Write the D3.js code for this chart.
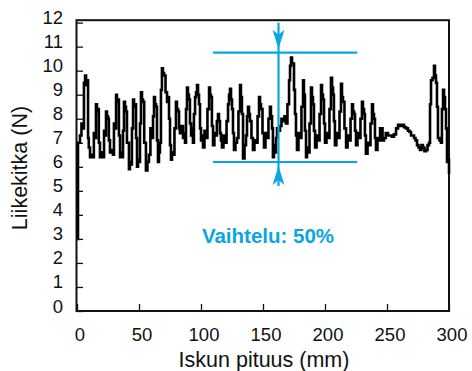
<!DOCTYPE html>
<html>
<head>
<meta charset="utf-8">
<script src="https://cdn.jsdelivr.net/npm/d3@7/dist/d3.min.js"></script>
<style>
  html, body { margin: 0; padding: 0; background: #fff; }
  svg { display: block; }
  text { font-family: "Liberation Sans", Arial, Helvetica, sans-serif; }
</style>
</head>
<body>
<svg id="chart" width="472" height="371"></svg>
<script>
// ---- data ----
const strokeMm = [0,0.8,2.4,3.6,4.8,5.6,6.5,7.3,8.1,8.9,9.5,10.5,11.7,12.9,13.6,14.4,15.3,16.1,16.9,17.6,18.5,19.6,21,21.8,22.6,23.4,24.2,25,25.7,26.6,27.8,29,29.8,30.6,31.5,32.2,33,33.8,34.7,35.5,36.3,37.1,37.9,38.7,39.5,40.3,41.9,42.7,43.5,44.3,45.2,46,46.8,47.6,48.4,49.2,50,50.8,51.6,52.4,53.2,54.2,55.6,56.8,58,59.2,60.5,61.3,62.1,62.9,63.7,64.5,65.3,66.1,66.9,67.7,68.5,69.3,70.2,71.4,72.6,73.4,74.2,75,75.8,76.6,77.4,78.6,79.8,80.6,81.5,82.3,83,84.2,85.5,86.3,87.1,87.9,88.7,89.5,90.3,91.1,92,92.8,93.5,94.3,95.2,96,96.8,97.6,98.4,99.2,100,100.8,101.6,102.8,104,105.2,106.5,107.3,108,108.8,109.7,110.8,112,112.8,113.7,114.5,115.3,116.1,116.9,118.1,119.4,120.6,121.8,122.6,123.4,124.2,125,125.8,126.6,127.8,129,130.2,131.5,132.2,133,133.9,135.1,136.3,137.1,137.9,138.7,139.5,140.7,141.9,143.1,144.4,145.6,146.8,147.6,148.4,149.6,150.8,152,153.2,154.4,155.6,156.4,157.3,158,158.8,159.7,160.5,161.3,162.5,163.7,164.9,166.1,167.3,168.5,169.7,171,171.8,172.6,173.4,174.2,175,175.8,176.6,177.4,178.6,179.8,181,182.3,183,183.8,184.7,185.5,186.3,187.5,188.7,189.5,190.3,191.1,192,193.2,194.4,195.6,196.8,197.6,198.4,199.2,200,201.2,202.4,203.6,204.8,205.7,206.5,207.2,208,209.2,210.5,211.7,212.9,213.7,214.5,215.7,217,218.2,219.4,220.6,221.8,222.6,223.4,224.2,225,226.2,227.4,228.6,229.8,230.6,231.5,232.2,233,234.3,235.5,236.7,237.9,238.7,239.5,240.3,241.1,242.3,243.5,244.4,245.2,246.4,247.6,249,250.8,252.4,254,255.6,257.3,258.9,260.5,262.1,263.7,265.3,266.9,268.2,269.4,270.6,271.8,273,274.2,275.4,276.6,277.8,279,280.2,281.5,282.7,283.9,284.7,285.5,286.7,287.9,288.7,289.5,290.3,291.1,292.3,293.5,294.3,295.2,296,296.8,297.6,298.4,299.2,300];
const forceN = [3.0,7.0,7.3,7.8,7.6,9.5,9.8,9.4,9.6,7.2,6.8,6.4,6.5,6.4,7.4,7.2,8.6,8.3,8.4,7.0,6.4,6.6,6.4,7.5,7.3,8.3,8.1,8.0,7.1,6.6,6.7,6.5,7.8,7.6,9.0,8.7,8.8,7.3,6.4,6.6,6.4,7.5,8.7,8.5,8.3,7.0,5.9,6.2,6.1,7.6,8.8,8.5,8.6,7.2,6.0,6.3,6.2,7.8,9.1,8.8,8.7,7.0,5.85,6.2,6.5,7.6,7.2,8.1,8.9,8.6,8.5,7.1,6.2,6.6,7.0,9.2,10.1,9.9,9.8,9.1,8.7,8.9,8.0,6.9,6.3,6.6,6.5,7.6,8.7,8.4,8.3,7.6,7.4,7.7,7.2,7.4,7.0,8.4,9.3,9.0,8.8,7.8,7.3,7.6,7.0,8.2,8.9,9.1,9.4,9.0,8.6,7.6,7.1,7.3,6.8,7.5,7.2,8.4,9.3,9.0,8.9,7.7,6.9,7.4,7.3,7.9,8.2,7.9,7.4,7.1,6.8,7.3,7.0,7.9,8.6,9.0,9.25,8.8,8.4,7.4,6.7,7.0,7.2,8.3,9.4,8.9,8.2,6.35,6.9,7.3,8.1,8.5,8.2,7.9,7.2,6.7,7.1,7.0,8.1,8.9,8.6,8.4,7.4,6.8,7.4,7.2,8.0,8.5,8.1,7.6,6.4,6.9,6.6,7.2,7.6,7.5,7.7,8.0,7.9,8.1,7.8,8.6,9.6,10.2,10.55,10.3,10.3,9.2,8.2,7.3,6.7,7.4,7.2,8.5,9.6,9.0,7.5,6.4,6.8,6.6,7.8,9.3,8.9,8.6,7.5,6.8,7.3,7.1,8.2,9.4,9.0,8.8,7.8,7.0,7.4,7.2,8.4,9.7,9.3,9.0,7.9,6.9,7.4,7.2,8.3,9.45,8.9,8.7,7.6,6.8,7.3,7.1,8.0,8.6,8.3,8.2,7.5,6.9,7.4,7.2,8.0,8.7,8.4,8.2,7.3,6.55,7.0,6.9,7.8,8.6,8.2,8.0,7.2,6.7,7.2,7.1,7.6,7.6,7.1,7.2,7.4,7.3,7.3,7.25,7.35,7.6,7.75,7.7,7.75,7.65,7.6,7.5,7.45,7.3,7.3,7.2,7.1,6.9,6.8,6.7,6.9,6.8,6.65,6.7,6.9,7.0,8.6,9.6,9.7,10.2,9.8,9.5,8.5,7.2,7.1,7.0,8.4,9.2,8.9,8.4,7.6,6.2,6.3,5.7];

const xTicks = [0, 50, 100, 150, 200, 250, 300];
const yTicks = [0,1,2,3,4,5,6,7,8,9,10,11,12];

const xLabel = "Iskun pituus (mm)";
const yLabel = "Liikekitka (N)";
const noteText = "Vaihtelu: 50%";

// annotation values (N and mm)
const bandMax = 10.75;
const bandMin = 6.2;
const bandFrom = 109.7;
const bandTo = 226;
const arrowAt = 162.5;
const arrowTop = 12.0;
const arrowBottom = 5.2;

// ---- layout ----
const svg = d3.select("#chart");
const blue = "#0aa5e3";
const x = d3.scaleLinear().domain([0, 300]).range([77, 449]);
const y = d3.scaleLinear().domain([0, 12]).range([311, 22.6]);

// frame
svg.append("rect")
  .attr("x", x(0) - 0.5).attr("y", y(12.1))
  .attr("width", x(300) - x(0) + 0.5).attr("height", y(0) - y(12.1))
  .attr("fill", "none").attr("stroke", "#111").attr("stroke-width", 2);

// y ticks (inward) and labels
const yAxis = d3.axisRight(y).tickValues(yTicks).tickSize(6).tickFormat("");
svg.append("g").attr("transform", `translate(${x(0)},0)`).call(yAxis)
  .call(g => g.select(".domain").remove())
  .call(g => g.selectAll("line").attr("stroke", "#111").attr("stroke-width", 1.3));
svg.append("g").selectAll("text").data(yTicks).join("text")
  .attr("x", 63).attr("y", d => y(d) + 1.5)
  .attr("text-anchor", "end").attr("font-size", 18.5).attr("fill", "#111")
  .text(d => d);

// x ticks (inward) and labels
const xAxis = d3.axisTop(x).tickValues(xTicks).tickSize(7).tickFormat("");
svg.append("g").attr("transform", `translate(0,${y(0)})`).call(xAxis)
  .call(g => g.select(".domain").remove())
  .call(g => g.selectAll("line").attr("stroke", "#111").attr("stroke-width", 1.3));
svg.append("g").selectAll("text").data(xTicks).join("text")
  .attr("x", d => x(d) + 3).attr("y", 340.5)
  .attr("text-anchor", "middle").attr("font-size", 18.5).attr("fill", "#111")
  .text(d => d);

// axis titles
svg.append("text").attr("x", 264).attr("y", 366.5)
  .attr("text-anchor", "middle").attr("font-size", 21.5).attr("fill", "#111")
  .text(xLabel);
svg.append("text").attr("transform", "translate(26.5,168) rotate(-90)")
  .attr("text-anchor", "middle").attr("font-size", 21.5).attr("fill", "#111")
  .text(yLabel);

// data line
const pts = strokeMm.map((m, i) => [m, forceN[i]]);
svg.append("path").datum(pts)
  .attr("fill", "none").attr("stroke", "#000").attr("stroke-width", 2.6)
  .attr("stroke-linejoin", "miter")
  .attr("d", d3.line().curve(d3.curveStepAfter).x(d => x(d[0])).y(d => y(d[1])));

// annotation
const ann = svg.append("g").attr("stroke", blue).attr("stroke-width", 2.2);
ann.append("line").attr("x1", x(bandFrom)).attr("x2", x(bandTo)).attr("y1", y(bandMax)).attr("y2", y(bandMax));
ann.append("line").attr("x1", x(bandFrom)).attr("x2", x(bandTo)).attr("y1", y(bandMin)).attr("y2", y(bandMin));
ann.append("line").attr("x1", x(arrowAt)).attr("x2", x(arrowAt)).attr("y1", y(arrowTop)).attr("y2", y(arrowBottom));
const ax = x(arrowAt);
const tipTop = y(bandMax) - 4, tipBot = y(bandMin) + 4;
svg.append("path").attr("fill", blue)
  .attr("d", `M${ax},${tipTop} L${ax - 6},${tipTop - 19} L${ax},${tipTop - 14} L${ax + 6},${tipTop - 19} Z`);
svg.append("path").attr("fill", blue)
  .attr("d", `M${ax},${tipBot} L${ax - 6},${tipBot + 19} L${ax},${tipBot + 14} L${ax + 6},${tipBot + 19} Z`);

svg.append("text").attr("x", 268).attr("y", 243)
  .attr("text-anchor", "middle").attr("font-size", 20.5).attr("font-weight", "bold")
  .attr("fill", blue).text(noteText);
</script>
</body>
</html>
